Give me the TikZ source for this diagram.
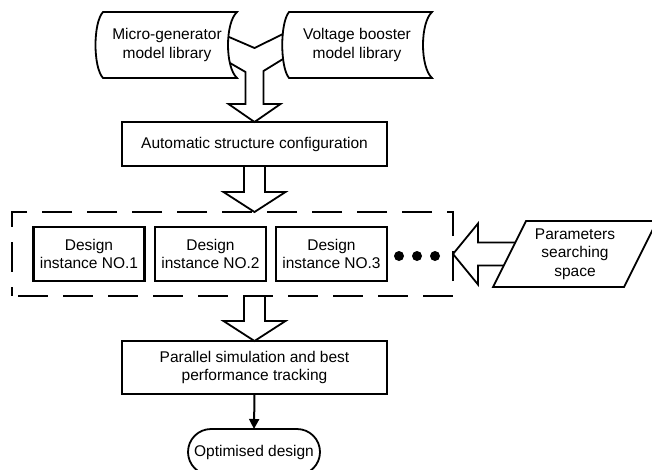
\documentclass[tikz,border=0pt]{standalone}
\usepackage{fontspec}
\setmainfont{Liberation Sans}
\usetikzlibrary{arrows.meta,calc}
\begin{document}
\begin{tikzpicture}[x=1pt,y=-1pt,
  txt/.style={font=\fontsize{15.5}{18.5}\selectfont, align=center, inner sep=0pt},
  box/.style={txt, draw, line width=2.4pt, outer sep=0pt},
  hollow/.style={draw, line width=1.8pt, line join=miter},
  shp/.style={draw, line width=1.8pt},
  dashframe/.style={draw, line width=2.4pt, dash pattern=on 30pt off 15pt, dash phase=39pt, outer sep=0pt, inner sep=0pt},
  dot/.style={circle, fill, inner sep=0pt, minimum size=10pt},
]
\useasboundingbox (0,0) rectangle (652,469);

% model libraries (stored-data outlines)
\draw[shp] (103,12) -- (237,12) .. controls (225,23) and (225,67) .. (237,78)
  -- (103,78) .. controls (93,67) and (93,23) .. (103,12) -- cycle;
\node[txt] (lib1) at (167,45) {Micro-generator\\model library};
\draw[shp] (289,12) -- (432,12) .. controls (420,23) and (420,67) .. (432,78)
  -- (289,78) .. controls (280,67) and (280,23) .. (289,12) -- cycle;
\node[txt] (lib2) at (357,45) {Voltage booster\\model library};

% configuration step
\node[box, minimum width=265pt, minimum height=44pt] (cfg) at (254.5,144) {Automatic structure configuration};

% merging hollow arrow into the configuration step
\coordinate (ytip) at (cfg.north);
\draw[hollow] (229,37) -- ($(ytip)+(0,-74)$) -- (283,34);
\draw[hollow] (283,59) -- ($(ytip)+(9,-51)$) -- ($(ytip)+(9,-18)$) -- ($(ytip)+(26,-18)$)
  -- (ytip) -- ($(ytip)+(-26,-18)$) -- ($(ytip)+(-9,-18)$) -- ($(ytip)+(-9,-50)$) -- (230,63);

% design instances
\node[dashframe, minimum width=441pt, minimum height=84pt] (frame) at (232.5,254) {};
\node[box, minimum width=111pt, minimum height=54pt] (d1) at (89,254) {Design\\instance NO.1};
\node[box, minimum width=111pt, minimum height=54pt] (d2) at (210.5,254) {Design\\instance NO.2};
\node[box, minimum width=111pt, minimum height=54pt] (d3) at (331.5,254) {Design\\instance NO.3};
\node[dot] (dot1) at (399,256) {};
\node[dot] (dot2) at (417,256) {};
\node[dot] (dot3) at (435,256) {};

% hollow arrow: configuration -> instances
\coordinate (a2base) at (cfg.south);
\coordinate (a2tip) at (cfg.south |- frame.north);
\draw[hollow] ($(a2base)+(-10.5,0)$) -- ($(a2tip)+(-10.5,-20)$) -- ($(a2tip)+(-31,-20)$)
  -- (a2tip) -- ($(a2tip)+(31,-20)$) -- ($(a2tip)+(10.5,-20)$) -- ($(a2base)+(10.5,0)$);

% parameter space
\draw[shp] (526,221) -- (657,221) -- (624,287) -- (493,287) -- cycle;
\node[txt] (param) at (575,254) {Parameters\\searching\\space};

% hollow arrow: parameter space -> instances
\coordinate (a3tip) at (frame.east);
\draw[hollow] ($(a3tip)+(62.25,-11.5)$) -- ($(a3tip)+(25,-11.5)$) -- ($(a3tip)+(25,-30.5)$)
  -- (a3tip) -- ($(a3tip)+(25,30.5)$) -- ($(a3tip)+(25,11.5)$) -- ($(a3tip)+(50.75,11.5)$);

% evaluation step
\node[box, minimum width=265pt, minimum height=53pt] (par) at (254.5,367.5) {Parallel simulation and best\\performance tracking};

% hollow arrow: instances -> evaluation
\coordinate (a4base) at (par.north |- frame.south);
\coordinate (a4tip) at (par.north);
\draw[hollow] ($(a4base)+(-10.5,0)$) -- ($(a4tip)+(-10.5,-20)$) -- ($(a4tip)+(-31,-20)$)
  -- (a4tip) -- ($(a4tip)+(31,-20)$) -- ($(a4tip)+(10.5,-20)$) -- ($(a4base)+(10.5,0)$);

% result
\node[txt, draw, line width=1.8pt, rounded corners=23pt, minimum width=132pt, minimum height=46pt, outer sep=0pt] (opt) at (254,452) {Optimised design};
\draw[line width=2pt, -{Triangle[length=10pt,width=10pt]}] (par.south) -- (opt.north);
\end{tikzpicture}
\end{document}
